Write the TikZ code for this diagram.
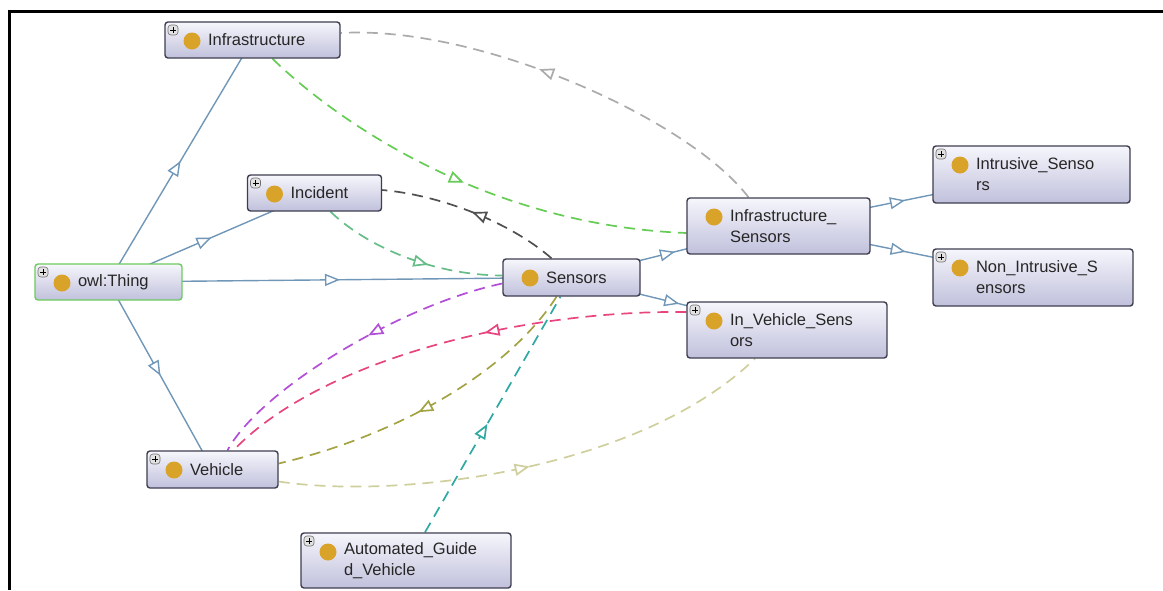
\documentclass[tikz,border=0pt]{standalone}
\usepackage{fontspec}
\setmainfont{Liberation Sans}
\usetikzlibrary{arrows.meta,decorations.markings}

\definecolor{boxtop}{HTML}{F6F6FC}
\definecolor{boxbot}{HTML}{C0C0DC}
\definecolor{boxedge}{HTML}{3E3E50}
\definecolor{textcol}{HTML}{262626}
\definecolor{dotcol}{HTML}{D9A228}
\definecolor{plusedge}{HTML}{707070}
\definecolor{plusfill}{HTML}{E2E2E2}
\definecolor{thingedge}{HTML}{6CCB5F}
\definecolor{isacol}{HTML}{7096B8}
\definecolor{greenc}{HTML}{66CC55}
\definecolor{grayc}{HTML}{ABABAB}
\definecolor{darkc}{HTML}{505050}
\definecolor{seac}{HTML}{66BD88}
\definecolor{purplec}{HTML}{B24FD6}
\definecolor{pinkc}{HTML}{E8457F}
\definecolor{olivec}{HTML}{A3A344}
\definecolor{tealc}{HTML}{2FA9A2}
\definecolor{khakic}{HTML}{CFCF9E}

\pgfdeclarelayer{bg}
\pgfsetlayers{bg,main}

% indent that leaves room for the class dot
\newcommand{\clsind}{\hspace*{33pt}}
% class dot, and the expand box in the corner
\newcommand{\clsdot}{\fill[dotcol] ([shift={(27,19)}]path picture bounding box.north west) circle[radius=8.5pt];}
\newcommand{\clsplus}{%
  \draw[draw=plusedge, fill=plusfill, line width=0.6pt]
    ([shift={(3,3)}]path picture bounding box.north west) rectangle ++(10,10);
  \draw[black, line width=1pt]
    ([shift={(5,8)}]path picture bounding box.north west) -- ++(6,0)
    ([shift={(8,5)}]path picture bounding box.north west) -- ++(0,6);}

\tikzset{
  mytri/.tip={Triangle[open, length=15pt, width=12pt, fill=white]},
  cls/.style={rectangle, rounded corners=3pt, draw=boxedge, line width=1.4pt,
    top color=boxtop, bottom color=boxbot, align=left, inner xsep=10pt, inner ysep=3pt,
    font=\fontsize{16.5}{21}\selectfont, text=textcol},
  clsn/.style={cls, path picture={\clsdot}},
  clsp/.style={cls, path picture={\clsdot\clsplus}},
  isa/.style={isacol, line width=1.4pt, postaction={decorate},
    decoration={markings, mark=at position 0.5 with {\arrow{mytri}}}},
  rel/.style={line width=1.7pt, dash pattern=on 11pt off 7pt, postaction={decorate},
    decoration={markings, mark=at position #1 with {\arrow{mytri}}}},
  rel/.default=0.5
}

\begin{document}
\begin{tikzpicture}[x=1pt, y=-1pt]
\useasboundingbox (0,0) rectangle (1163,590);

% frame
\draw[black, line width=2.5pt] (9.5,590) -- (9.5,11.5) -- (1163,11.5);

% classes
\node[clsp, text width=155pt, minimum height=36pt] (infra) at (252.5,40) {\clsind Infrastructure};
\node[clsp, text width=114pt, minimum height=36pt] (incident) at (314.5,193) {\clsind Incident};
\node[clsp, draw=thingedge, text width=127pt, minimum height=36pt] (thing) at (108.5,282) {\clsind owl:Thing};
\node[clsn, text width=117pt, minimum height=37pt] (sensors) at (571.5,277.5) {\clsind Sensors};
\node[clsn, text width=163pt, minimum height=56pt] (infsens) at (778.5,226) {\clsind Infrastructure\_\\\clsind Sensors};
\node[clsp, text width=177pt, minimum height=57pt] (intr) at (1031.5,174.5) {\clsind Intrusive\_Senso\\\clsind rs};
\node[clsp, text width=180pt, minimum height=57pt] (nonintr) at (1033,277.5) {\clsind Non\_Intrusive\_S\\\clsind ensors};
\node[clsp, text width=180pt, minimum height=56pt] (invs) at (787,330) {\clsind In\_Vehicle\_Sens\\\clsind ors};
\node[clsp, text width=111pt, minimum height=37pt] (vehicle) at (212.5,469.5) {\clsind Vehicle};
\node[clsp, text width=190pt, minimum height=55pt] (agv) at (406,560.5) {\clsind Automated\_Guide\\\clsind d\_Vehicle};

\begin{pgfonlayer}{bg}
% subclass links
\draw[isa] (thing.center) -- (infra.center);
\draw[isa] (thing.center) -- (incident.center);
\draw[isa] (thing.center) -- (sensors.center);
\draw[isa] (thing.center) -- (vehicle.center);
\draw[isa] (sensors.center) -- (infsens.center);
\draw[isa] (sensors.center) -- (invs.center);
\draw[isa] (infsens.center) -- (intr.center);
\draw[isa] (infsens.center) -- (nonintr.center);

% property links
\draw[rel, greenc] ([shift={(20,0)}]infra.south) .. controls (330,115) and (480,225) .. ([shift={(0,7)}]infsens.west);
\draw[rel=0.55, grayc] ([shift={(-30,0)}]infsens.north) .. controls (690,120) and (480,25) .. ([shift={(0,-7)}]infra.east);
\draw[rel, darkc] ([shift={(-20,0)}]sensors.north) .. controls (510,222) and (440,195) .. ([shift={(0,-3)}]incident.east);
\draw[rel=0.6, seac] ([shift={(16,0)}]incident.south) .. controls (365,245) and (430,275) .. ([shift={(0,-2)}]sensors.west);
\draw[rel=0.44, purplec] ([shift={(0,6)}]sensors.west) .. controls (400,305) and (260,390) .. ([shift={(15,0)}]vehicle.north);
\draw[rel=0.42, pinkc] ([shift={(0,-18)}]invs.west) .. controls (520,310) and (320,360) .. ([shift={(21,0)}]vehicle.north);
\draw[rel=0.55, olivec] ([shift={(-15,0)}]sensors.south) .. controls (510,370) and (400,435) .. ([shift={(0,-6)}]vehicle.east);
\draw[rel=0.46, tealc] ([shift={(19,0)}]agv.north) -- ([shift={(-11,0)}]sensors.south);
\draw[rel, khakic] ([shift={(0,12)}]vehicle.east) .. controls (400,500) and (640,470) .. ([shift={(-32,0)}]invs.south);
\end{pgfonlayer}
\end{tikzpicture}
\end{document}
